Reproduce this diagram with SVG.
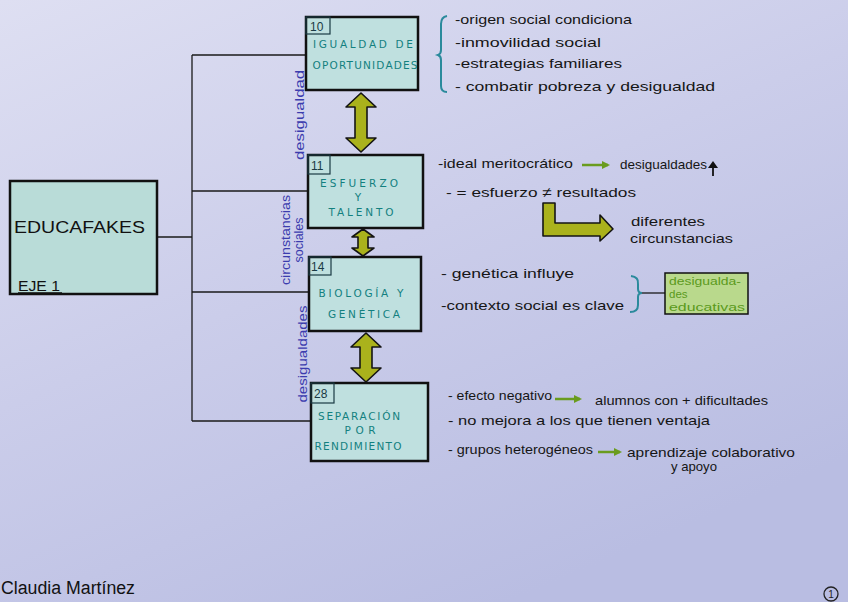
<svg xmlns="http://www.w3.org/2000/svg" width="848" height="602" viewBox="0 0 848 602">
<defs>
<linearGradient id="bg" x1="0" y1="0" x2="0.6" y2="1">
<stop offset="0" stop-color="#dedff2"/>
<stop offset="0.5" stop-color="#cbcdea"/>
<stop offset="1" stop-color="#b9bde2"/>
</linearGradient>
<marker id="gh" markerWidth="8" markerHeight="8" refX="6" refY="4" orient="auto" markerUnits="userSpaceOnUse">
<path d="M0,0 L8,4 L0,8 Z" fill="#6a9c1e"/>
</marker>
</defs>
<style>
.node{fill:#bfe0df;stroke:#111;stroke-width:2.5}
.num{fill:none;stroke:#1a3a44;stroke-width:1.2}
.numt{font-family:"Liberation Sans",sans-serif;font-size:12px;fill:#1a3a44}
.nt{font-family:"DejaVu Sans",sans-serif;font-size:10.5px;fill:#13807f;text-anchor:middle}
.hw{font-family:"Liberation Sans",sans-serif;font-size:13.5px;fill:#161616}
.bl{font-family:"Liberation Sans",sans-serif;font-size:13px;fill:#3b3cae;text-anchor:middle}
.conn{stroke:#1a1a1a;stroke-width:1.3;fill:none}
.olive{fill:#aab21c;stroke:#141414;stroke-width:1.6;stroke-linejoin:round}
.ga{stroke:#6a9c1e;stroke-width:2.5;fill:none}
.br{fill:none;stroke:#2a8a9c;stroke-width:2}
</style>
<rect x="0" y="0" width="848" height="602" fill="url(#bg)"/>

<g id="connectors">
<line class="conn" x1="157" y1="237" x2="192" y2="237"/>
<line class="conn" x1="192" y1="55" x2="192" y2="421"/>
<line class="conn" x1="192" y1="55" x2="306" y2="55"/>
<line class="conn" x1="192" y1="191" x2="308" y2="191"/>
<line class="conn" x1="192" y1="292" x2="309" y2="292"/>
<line class="conn" x1="192" y1="421" x2="311" y2="421"/>
<line class="conn" x1="642" y1="293" x2="665" y2="293"/>
<path class="olive" d="M361,93 L376,107 L367,107 L367,138 L376,138 L361,152 L346,138 L355,138 L355,107 L346,107 Z"/>
<path class="olive" d="M363,229 L374,237 L368,237 L368,248 L374,248 L363,256 L352,248 L358,248 L358,237 L352,237 Z"/>
<path class="olive" d="M366,333 L381,347 L372,347 L372,368 L381,368 L366,382 L351,368 L360,368 L360,347 L351,347 Z"/>
<path class="olive" d="M543,203 L555,203 L555,223 L600,223 L600,215 L613,229 L600,241 L600,236 L543,236 Z"/>
</g>

<g id="main">
<rect x="10" y="181" width="147" height="113" fill="#b9dcd8" stroke="#111" stroke-width="2.5"/>
<text x="14" y="233" font-family="Liberation Sans,sans-serif" font-size="17" fill="#111" textLength="131" lengthAdjust="spacingAndGlyphs">EDUCAFAKES</text>
<text x="18" y="291" font-family="Liberation Sans,sans-serif" font-size="14" fill="#111" textLength="42" lengthAdjust="spacingAndGlyphs">EJE 1</text>
<line x1="18" y1="293" x2="62" y2="293" stroke="#111" stroke-width="1.3"/>
</g>

<g id="n10">
<rect class="node" x="306" y="17" width="112" height="73"/>
<rect class="num" x="306" y="17" width="24" height="17"/>
<text class="numt" x="310" y="31">10</text>
<text class="nt" x="363" y="48" textLength="100">IGUALDAD DE</text>
<text class="nt" x="365" y="69" textLength="105">OPORTUNIDADES</text>
</g>
<g id="n10-notes">
<path class="br" d="M447,16 Q441,17 441,24 L441,50 Q441,54 438,55 Q441,56 441,60 L441,86 Q441,92 447,92"/>
<text class="hw" x="455" y="24" textLength="177" lengthAdjust="spacingAndGlyphs">-origen social condiciona</text>
<text class="hw" x="455" y="47" textLength="146" lengthAdjust="spacingAndGlyphs">-inmovilidad social</text>
<text class="hw" x="455" y="68" textLength="167" lengthAdjust="spacingAndGlyphs">-estrategias familiares</text>
<text class="hw" x="455" y="91" textLength="260" lengthAdjust="spacingAndGlyphs">- combatir pobreza y desigualdad</text>
</g>

<g id="n11">
<rect class="node" x="308" y="155" width="115" height="73"/>
<rect class="num" x="308" y="155" width="22" height="19"/>
<text class="numt" x="311" y="170">11</text>
<text class="nt" x="359" y="187" textLength="78">ESFUERZO</text>
<text class="nt" x="358" y="201">Y</text>
<text class="nt" x="361" y="216" textLength="65">TALENTO</text>
</g>
<g id="n11-notes">
<text class="hw" x="438" y="168" textLength="135" lengthAdjust="spacingAndGlyphs">-ideal meritocrático</text>
<line class="ga" x1="582" y1="165" x2="608" y2="165" marker-end="url(#gh)"/>
<text class="hw" x="620" y="169" textLength="87" lengthAdjust="spacingAndGlyphs">desigualdades</text>
<line x1="713" y1="176" x2="713" y2="166" stroke="#111" stroke-width="1.8"/>
<path d="M708,168 L713,161 L718,168 Z" fill="#111"/>
<text class="hw" x="446" y="197" textLength="190" lengthAdjust="spacingAndGlyphs">- = esfuerzo ≠ resultados</text>
<text class="hw" x="631" y="226" textLength="74" lengthAdjust="spacingAndGlyphs">diferentes</text>
<text class="hw" x="630" y="243" textLength="103" lengthAdjust="spacingAndGlyphs">circunstancias</text>
</g>

<g id="n14">
<rect class="node" x="309" y="257" width="112" height="74"/>
<rect class="num" x="309" y="257" width="22" height="18"/>
<text class="numt" x="311" y="271">14</text>
<text class="nt" x="361" y="297" textLength="85">BIOLOGÍA Y</text>
<text class="nt" x="364" y="318" textLength="72">GENÉTICA</text>
</g>
<g id="n14-notes">
<text class="hw" x="441" y="278" textLength="133" lengthAdjust="spacingAndGlyphs">- genética influye</text>
<text class="hw" x="441" y="310" textLength="183" lengthAdjust="spacingAndGlyphs">-contexto social es clave</text>
<path class="br" d="M631,276 Q639,277 638,284 L638,289 Q638,293 642,293 Q638,293 638,297 L638,305 Q638,312 630,312"/>
</g>
<g id="desig-box">
<rect x="665" y="273" width="83" height="41" fill="#b9d98c" stroke="#111" stroke-width="1.5"/>
<text x="669" y="285" font-family="Liberation Sans,sans-serif" font-size="11.5" fill="#5b9a1c" textLength="72" lengthAdjust="spacingAndGlyphs">desigualda-</text>
<text x="669" y="298" font-family="Liberation Sans,sans-serif" font-size="11.5" fill="#5b9a1c">des</text>
<text x="669" y="311" font-family="Liberation Sans,sans-serif" font-size="11.5" fill="#5b9a1c" textLength="76" lengthAdjust="spacingAndGlyphs">educativas</text>
</g>

<g id="n28">
<rect class="node" x="311" y="383" width="117" height="78"/>
<rect class="num" x="311" y="383" width="23" height="20"/>
<text class="numt" x="314" y="398">28</text>
<text class="nt" x="359" y="420" textLength="82">SEPARACIÓN</text>
<text class="nt" x="360" y="434" textLength="31">POR</text>
<text class="nt" x="358" y="450" textLength="87">RENDIMIENTO</text>
</g>
<g id="n28-notes">
<text class="hw" x="448" y="400" textLength="104" lengthAdjust="spacingAndGlyphs">- efecto negativo</text>
<line class="ga" x1="555" y1="399" x2="580" y2="399" marker-end="url(#gh)"/>
<text class="hw" x="595" y="405" textLength="173" lengthAdjust="spacingAndGlyphs">alumnos con + dificultades</text>
<text class="hw" x="448" y="425" textLength="262" lengthAdjust="spacingAndGlyphs">- no mejora a los que tienen ventaja</text>
<text class="hw" x="448" y="454" textLength="145" lengthAdjust="spacingAndGlyphs">- grupos heterogéneos</text>
<line class="ga" x1="598" y1="452" x2="620" y2="452" marker-end="url(#gh)"/>
<text class="hw" x="627" y="457" textLength="168" lengthAdjust="spacingAndGlyphs">aprendizaje colaborativo</text>
<text class="hw" x="671" y="471" textLength="46" lengthAdjust="spacingAndGlyphs">y apoyo</text>
</g>

<g id="side-labels">
<text class="bl" transform="translate(304,115) rotate(-90)" textLength="90" lengthAdjust="spacingAndGlyphs">desigualdad</text>
<text class="bl" transform="translate(290,240) rotate(-90)" textLength="90" lengthAdjust="spacingAndGlyphs">circunstancias</text>
<text class="bl" transform="translate(303,240) rotate(-90)" textLength="45" lengthAdjust="spacingAndGlyphs">sociales</text>
<text class="bl" transform="translate(307,354) rotate(-90)" textLength="97" lengthAdjust="spacingAndGlyphs">desigualdades</text>
</g>

<g id="footer">
<text x="1" y="594" font-family="Liberation Sans,sans-serif" font-size="18" fill="#111" textLength="134" lengthAdjust="spacingAndGlyphs">Claudia Martínez</text>
<circle cx="831" cy="594" r="7" fill="none" stroke="#222" stroke-width="1.3"/>
<text x="831" y="598" font-family="Liberation Sans,sans-serif" font-size="10" fill="#222" text-anchor="middle">1</text>
</g>
</svg>
